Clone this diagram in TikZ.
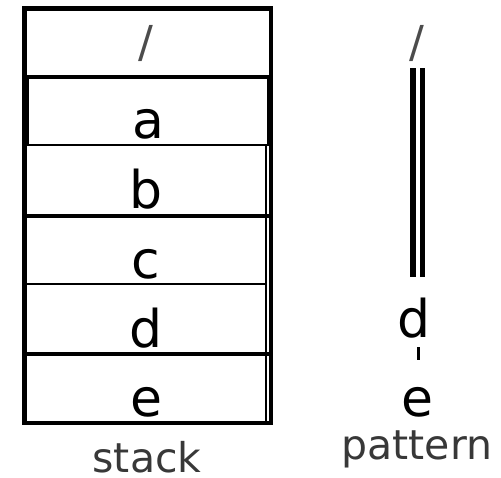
\documentclass[tikz,border=0pt]{standalone}
\usepackage{fontspec}
\setmainfont{DejaVu Sans}
\begin{document}
\begin{tikzpicture}[x=1pt,y=-1pt,
  frame/.style={draw=black,line width=4.5pt},
  cell/.style={draw=black,line width=2.5pt},
  sep/.style={draw=black,line width=4.5pt},
  item/.style={anchor=base,inner sep=0pt,font=\fontsize{52}{52}\selectfont},
  slashlbl/.style={anchor=base,inner sep=0pt,text=black!70,font=\fontsize{44}{44}\selectfont},
  caption/.style={anchor=base,inner sep=0pt,text=black!78,font=\fontsize{41}{41}\selectfont},
  rail/.style={draw=black,line cap=butt}]
\useasboundingbox (0,0) rectangle (501,477);

% stack: item cells
\draw[cell] (27.5,77) rectangle (268,145);
\draw[cell] (24.5,145) rectangle (266,216);
\draw[cell] (24.5,216) rectangle (266,284);
\draw[cell] (24.5,284) rectangle (266,354);
\draw[cell] (24.5,354) rectangle (266,423);
% stack: outer frame and heavy separators
\draw[frame] (24.5,8.5) rectangle (271,423);
\draw[sep] (24.5,77) -- (271,77);
\draw[sep] (24.5,216) -- (271,216);
\draw[sep] (24.5,354) -- (271,354);

% stack labels
\node[slashlbl] (sroot) at (146,57) {/};
\node[item] (sa) at (148,138) {a};
\node[item] (sb) at (146,208) {b};
\node[item] (sc) at (146,278) {c};
\node[item] (sd) at (146,347) {d};
\node[item] (se) at (146,416) {e};
\node[caption] (stack) at (147,472) {stack};

% pattern column
\node[slashlbl] (proot) at (417,57) {/};
\node[item] (pd) at (414.5,337) {d};
\node[item] (pe) at (417.5,416) {e};
\node[caption] (pattern) at (417,459) {pattern};

\coordinate (railtop) at (413,68);
\coordinate (railbot) at (413,277);
\draw[rail,line width=5.5pt] (railtop) -- (railbot);
\draw[rail,line width=4.5pt] ([xshift=9.5pt]railtop) -- ([xshift=9.5pt]railbot);
\coordinate (ticktop) at (418.5,347);
\coordinate (tickbot) at (418.5,360);
\draw[rail,line width=3pt] (ticktop) -- (tickbot);
\end{tikzpicture}
\end{document}
